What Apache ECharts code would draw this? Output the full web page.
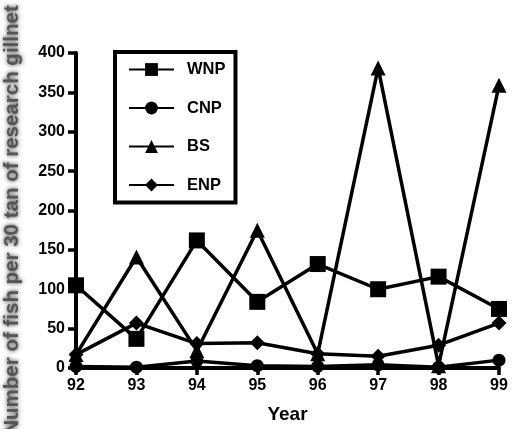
<!DOCTYPE html>
<html>
<head>
<meta charset="utf-8">
<script src="https://cdn.jsdelivr.net/npm/echarts@6/dist/echarts.min.js"></script>
<style>
  html, body { margin: 0; padding: 0; background: #fff; }
  #chart { width: 514px; height: 429px; }
</style>
</head>
<body>
<div id="chart"></div>
<script>
// Catch per year, fish per 30 tan of research gillnet
const years = ['92', '93', '94', '95', '96', '97', '98', '99'];
const wnp = [105, 37, 162, 84, 132, 100, 116, 75];
const cnp = [2, 1, 9, 3, 2, 4, 1, 10];
const bs = [17, 141, 22, 175, 18, 381, 3, 359];
const enp = [17, 57, 31, 32, 18, 15, 29, 57];
const yTicks = [0, 50, 100, 150, 200, 250, 300, 350, 400];

const FONT = "'Liberation Sans', Arial, sans-serif";

function lineSeries(name, data, symbol, size) {
  return {
    name: name,
    type: 'line',
    data: data,
    symbol: symbol,
    symbolSize: size,
    showAllSymbol: true,
    lineStyle: { color: '#000', width: 3.5 },
    itemStyle: { color: '#000', borderColor: '#000', borderWidth: 0 },
    emphasis: { disabled: true },
    animation: false
  };
}

const axisLineStyle = { show: true, onZero: false, lineStyle: { color: '#000', width: 4, opacity: 1 } };
const axisTickStyle = { show: true, lineStyle: { color: '#000', width: 3.5, opacity: 1 } };

const chart = echarts.init(document.getElementById('chart'), null, { renderer: 'canvas' });
chart.setOption({
  animation: false,
  backgroundColor: '#fff',
  grid: { left: 76, right: 15, top: 53, bottom: 60, containLabel: false },
  legend: {
    left: 115,
    top: 52,
    orient: 'vertical',
    borderColor: '#000',
    borderWidth: 4,
    padding: [9, 10, 9, 13],
    itemWidth: 45,
    itemHeight: 16,
    itemGap: 21.5,
    selectedMode: false,
    textStyle: { fontFamily: FONT, fontWeight: 'bold', fontSize: 16.5, color: '#000', padding: [0, 0, 0, 8] },
    data: ['WNP', 'CNP', 'BS', 'ENP']
  },
  xAxis: {
    type: 'category',
    data: years,
    boundaryGap: false,
    name: 'Year',
    nameLocation: 'middle',
    nameGap: 37,
    nameTextStyle: { fontFamily: FONT, fontWeight: 'bold', fontSize: 19, color: '#000' },
    axisLine: axisLineStyle,
    axisTick: Object.assign({ length: 7, alignWithLabel: true }, axisTickStyle),
    axisLabel: { fontFamily: FONT, fontWeight: 'bold', fontSize: 16, color: '#000', margin: 10 },
    splitLine: { show: false },
    z: 5
  },
  yAxis: {
    type: 'value',
    min: yTicks[0],
    max: yTicks[yTicks.length - 1],
    interval: 50,
    axisLine: axisLineStyle,
    axisTick: Object.assign({ length: 8 }, axisTickStyle),
    axisLabel: { fontFamily: FONT, fontWeight: 'bold', fontSize: 16, color: '#000', margin: 11 },
    splitLine: { show: false },
    z: 5
  },
  graphic: [{
    type: 'text',
    x: 12,
    y: 220,
    rotation: Math.PI / 2,
    style: {
      text: 'Number of fish per 30 tan of research gillnet',
      fontFamily: FONT,
      fontWeight: 'bold',
      fontSize: 20.5,
      fill: '#555',
      align: 'center',
      verticalAlign: 'middle',
      textShadowColor: 'rgba(0,0,0,0.8)',
      textShadowBlur: 4
    }
  }],
  series: [
    lineSeries('WNP', wnp, 'rect', 16),
    lineSeries('CNP', cnp, 'circle', 13),
    lineSeries('BS', bs, 'triangle', 15),
    lineSeries('ENP', enp, 'diamond', 15)
  ]
});
</script>
</body>
</html>
